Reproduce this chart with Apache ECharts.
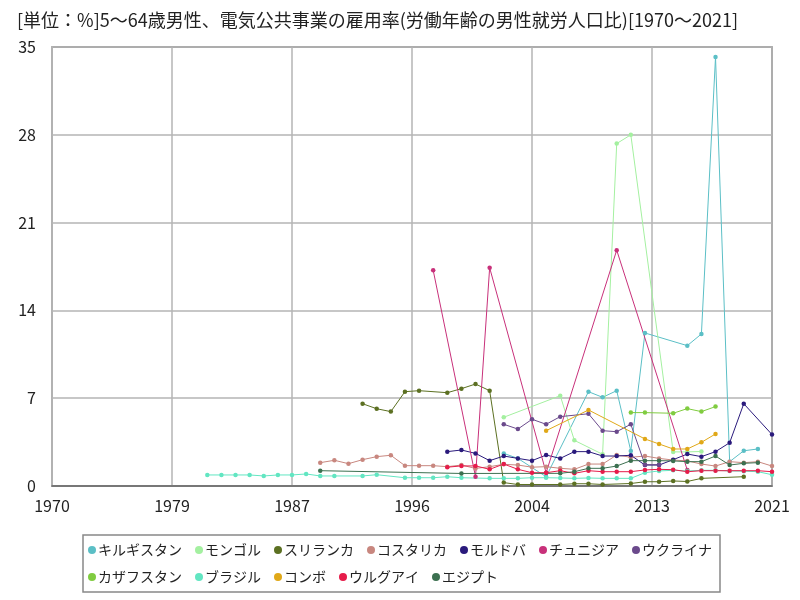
<!DOCTYPE html>
<html>
<head>
<meta charset="utf-8">
<script src="https://cdn.jsdelivr.net/npm/echarts@6/dist/echarts.min.js"></script>
<style>
  html, body { margin: 0; padding: 0; background: #fff; }
  #chart { width: 800px; height: 600px; }
</style>
</head>
<body>
<div id="chart"></div>
<script>
// [year, value] pairs
const kyrgyzstan = [[2002, 2.6], [2003, 2.2], [2005, 0.74], [2008, 7.52], [2009, 7.07], [2010, 7.6], [2011, 2.79], [2012, 12.2], [2015, 11.19], [2016, 12.12], [2017, 34.2], [2018, 1.94], [2019, 2.81], [2020, 2.95]];
const mongolia = [[2002, 5.48], [2006, 7.2], [2007, 3.64], [2009, 2.53], [2010, 27.3], [2011, 28.0], [2014, 2.72], [2015, 2.72], [2016, 2.75]];
const sriLanka = [[1992, 6.56], [1993, 6.16], [1994, 5.93], [1995, 7.52], [1996, 7.6], [1998, 7.44], [1999, 7.76], [2000, 8.13], [2001, 7.6], [2002, 0.27], [2003, 0.12], [2004, 0.12], [2006, 0.12], [2007, 0.18], [2008, 0.18], [2009, 0.12], [2011, 0.2], [2012, 0.34], [2013, 0.34], [2014, 0.4], [2015, 0.36], [2016, 0.61], [2019, 0.74]];
const costaRica = [[1989, 1.86], [1990, 2.05], [1991, 1.78], [1992, 2.1], [1993, 2.34], [1994, 2.45], [1995, 1.62], [1996, 1.62], [1997, 1.62], [1998, 1.54], [1999, 1.67], [2000, 1.4], [2001, 1.54], [2002, 1.73], [2003, 1.67], [2004, 1.5], [2005, 1.54], [2006, 1.41], [2007, 1.33], [2008, 1.75], [2009, 1.75], [2010, 2.47], [2011, 2.29], [2012, 2.39], [2013, 2.2], [2014, 2.07], [2015, 2.0], [2016, 1.75], [2017, 1.59], [2018, 1.94], [2019, 1.86], [2020, 1.94], [2021, 1.59]];
const moldova = [[1998, 2.74], [1999, 2.87], [2000, 2.6], [2001, 2.02], [2002, 2.39], [2003, 2.2], [2004, 2.02], [2005, 2.47], [2006, 2.2], [2007, 2.74], [2008, 2.74], [2009, 2.39], [2010, 2.39], [2011, 2.45], [2012, 1.67], [2013, 1.67], [2014, 2.1], [2015, 2.55], [2016, 2.34], [2017, 2.74], [2018, 3.45], [2019, 6.56], [2021, 4.1]];
const tunisia = [[1997, 17.2], [2000, 0.74], [2001, 17.4], [2005, 1.06], [2010, 18.8], [2015, 1.27]];
const ukraine = [[2002, 4.92], [2003, 4.54], [2004, 5.32], [2005, 4.92], [2006, 5.53], [2008, 5.76], [2009, 4.41], [2010, 4.33], [2011, 4.92], [2012, 1.7], [2013, 1.7]];
const kazakhstan = [[2011, 5.85], [2012, 5.85], [2014, 5.8], [2015, 6.17], [2016, 5.93], [2017, 6.33]];
const brazil = [[1981, 0.88], [1982, 0.88], [1983, 0.88], [1984, 0.88], [1985, 0.8], [1986, 0.88], [1987, 0.88], [1988, 0.96], [1989, 0.8], [1990, 0.8], [1992, 0.8], [1993, 0.9], [1995, 0.66], [1996, 0.66], [1997, 0.66], [1998, 0.74], [1999, 0.66], [2001, 0.61], [2002, 0.61], [2003, 0.61], [2004, 0.66], [2005, 0.66], [2006, 0.64], [2007, 0.61], [2008, 0.64], [2009, 0.61], [2010, 0.61], [2011, 0.61], [2012, 1.06], [2013, 1.2], [2014, 1.25], [2015, 1.2], [2016, 1.25], [2017, 1.25], [2018, 1.2], [2019, 1.18], [2020, 1.14], [2021, 0.9]];
const congo = [[2005, 4.41], [2008, 6.06], [2012, 3.75], [2013, 3.35], [2014, 2.95], [2015, 2.95], [2016, 3.48], [2017, 4.15]];
const uruguay = [[1998, 1.5], [1999, 1.6], [2000, 1.6], [2001, 1.33], [2002, 1.75], [2003, 1.33], [2004, 1.06], [2005, 1.06], [2006, 1.22], [2007, 1.01], [2008, 1.22], [2009, 1.14], [2010, 1.14], [2011, 1.14], [2012, 1.28], [2013, 1.33], [2014, 1.3], [2015, 1.14], [2016, 1.22], [2017, 1.22], [2018, 1.22], [2019, 1.22], [2020, 1.22], [2021, 1.14]];
const egypt = [[1989, 1.22], [1999, 1.0], [2006, 1.01], [2007, 1.14], [2008, 1.41], [2009, 1.41], [2010, 1.59], [2011, 2.02], [2012, 2.02], [2013, 2.02], [2014, 2.0], [2015, 1.94], [2016, 1.94], [2017, 2.39], [2018, 1.67], [2019, 1.81], [2020, 1.86]];

const countries = ["キルギスタン", "モンゴル", "スリランカ", "コスタリカ", "モルドバ", "チュニジア", "ウクライナ", "カザフスタン", "ブラジル", "コンボ", "ウルグアイ", "エジプト"];
const seriesData = [kyrgyzstan, mongolia, sriLanka, costaRica, moldova, tunisia, ukraine, kazakhstan, brazil, congo, uruguay, egypt];
const colors = ["#5bbfc6", "#a4f0a0", "#5c7022", "#c8877f", "#2a1a7c", "#c8307a", "#6b4a8c", "#80cc40", "#62e6c2", "#e0a818", "#e61c4a", "#3c7050"];

const startYear = 1970;
const endYear = 2021;

const font = "'Noto Sans CJK JP', sans-serif";
const chart = echarts.init(document.getElementById("chart"), null, { renderer: "canvas" });

chart.setOption({
	animation: false,
	color: colors,
	title: {
		text: "[単位：%]5～64歳男性、電気公共事業の雇用率(労働年齢の男性就労人口比)[1970～2021]",
		left: 12,
		top: 6,
		textStyle: { fontFamily: font, fontSize: 18, fontWeight: "normal", color: "#222" }
	},
	grid: {
		left: 52,
		right: 28,
		top: 47,
		bottom: 114,
		show: true,
		borderColor: "#777",
		borderWidth: 1.5
	},
	legend: {
		data: countries,
		left: 83,
		top: 535,
		width: 630,
		icon: "circle",
		itemWidth: 8,
		itemHeight: 8,
		itemGap: 13,
		padding: [8, 8, 8, 5],
		borderColor: "#888",
		borderWidth: 1.5,
		textStyle: { fontFamily: font, fontSize: 14, color: "#222", padding: [0, 0, 0, -3] }
	},
	xAxis: {
		type: "value",
		min: 0,
		max: endYear - startYear,
		interval: 8.5,
		axisLine: { show: true, lineStyle: { color: "#666", width: 1.5 } },
		axisTick: { show: false },
		axisLabel: {
			fontFamily: font,
			fontSize: 16,
			color: "#222",
			margin: 12,
			formatter: v => String(Math.round(startYear + v))
		},
		splitLine: { show: true, lineStyle: { color: "#b4b4b4", width: 1.5 } }
	},
	yAxis: {
		type: "value",
		min: 0,
		max: 35,
		interval: 7,
		axisLine: { show: true, lineStyle: { color: "#b4b4b4", width: 1.5 } },
		axisTick: { show: false },
		axisLabel: { fontFamily: font, fontSize: 16, color: "#222", margin: 16 },
		splitLine: { show: true, lineStyle: { color: "#b4b4b4", width: 1.5 } }
	},
	series: countries.map((name, i) => ({
		name,
		type: "line",
		symbol: "circle",
		symbolSize: 4.5,
		lineStyle: { width: 1 },
		data: seriesData[i].map(([year, value]) => [year - startYear, value])
	}))
});
</script>
</body>
</html>
